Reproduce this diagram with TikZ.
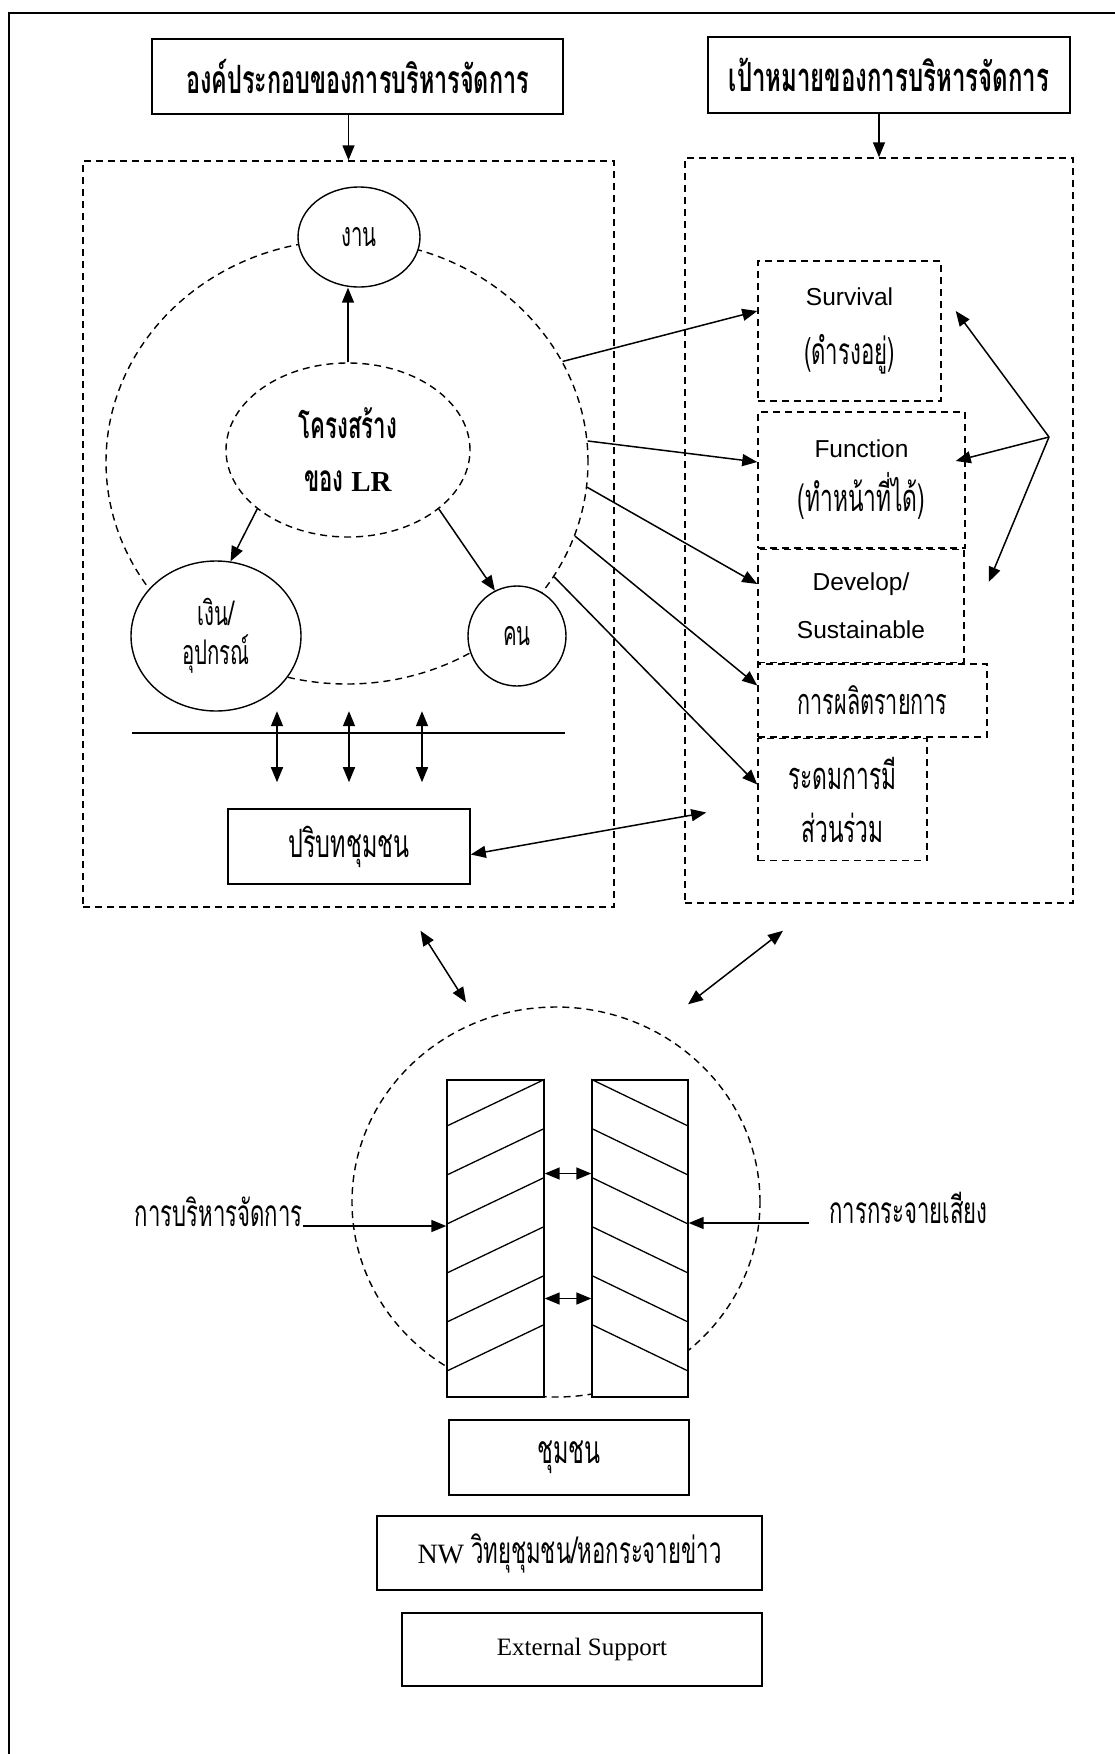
\documentclass[tikz,border=0pt]{standalone}
\usepackage{fontspec}
\setmainfont{Liberation Serif}
\newfontfamily\thaifont[Script=Thai,FakeStretch=0.6]{Loma}
\newfontfamily\latinsans{Liberation Sans}
\usetikzlibrary{shapes.geometric,arrows.meta,positioning,calc}

\begin{document}
\begin{tikzpicture}[
    x=1pt, y=-1pt,
    box/.style={rectangle, draw, line width=1.6pt, inner sep=0pt, align=center},
    dashbox/.style={rectangle, draw, line width=1.5pt, dash pattern=on 7pt off 5pt, inner sep=0pt, align=center},
    oval/.style={ellipse, draw, line width=1.4pt, fill=white, inner sep=0pt, align=center},
    dashoval/.style={ellipse, draw, line width=1.4pt, dash pattern=on 7pt off 5pt, inner sep=0pt, align=center},
    arrow/.style={-{Triangle[length=15pt,width=12pt]}, line width=1.5pt},
    twoway/.style={{Triangle[length=15pt,width=12pt]}-{Triangle[length=15pt,width=12pt]}, line width=1.5pt}
]
\useasboundingbox (0,0) rectangle (1115,1754);

% Frame
\draw[line width=1.5pt] (1115,13) -- (9,13) -- (9,1754);

% Headers
\node[box, line width=2pt, minimum width=411pt, minimum height=75pt, font=\thaifont\bfseries\fontsize{39}{44}\selectfont] (parts) at (357.5,76.5) {องค์ประกอบของการบริหารจัดการ};
\node[box, line width=2pt, minimum width=362pt, minimum height=76pt, font=\thaifont\bfseries\fontsize{40}{44}\selectfont] (goals) at (889,75) {เป้าหมายของการบริหารจัดการ};

% Dashed areas
\node[dashbox, minimum width=531pt, minimum height=746pt] (partsarea) at (348.5,534) {};
\node[dashbox, minimum width=388pt, minimum height=745pt] (goalsarea) at (879,530.5) {};

% Components of LR
\node[dashoval, minimum width=482pt, minimum height=444pt] (ring) at (347,462) {};
\node[dashoval, minimum width=244pt, minimum height=174pt, font=\thaifont\bfseries\fontsize{37}{53}\selectfont] (structure) at (348,450) {โครงสร้าง\\ของ {\rmfamily\fontsize{29}{53}\selectfont LR}};
\node[oval, minimum width=122pt, minimum height=100pt, font=\thaifont\fontsize{34}{39}\selectfont] (work) at (359,237) {งาน};
\node[oval, minimum width=170pt, minimum height=150pt, font=\thaifont\fontsize{34}{39}\selectfont] (money) at (216,636) {เงิน/\\อุปกรณ์};
\node[oval, minimum width=98pt, minimum height=100pt, font=\thaifont\fontsize{34}{39}\selectfont] (people) at (517,636) {คน};

\node[box, minimum width=242pt, minimum height=75pt, font=\thaifont\fontsize{39}{44}\selectfont] (context) at (349,846.5) {ปริบทชุมชน};

% Goals
\node[dashbox, minimum width=183pt, minimum height=140pt, font=\fontsize{24.5}{59}\selectfont] (survival) at (849.5,331) {{\latinsans Survival}\\{\thaifont\fontsize{37}{59}\selectfont (ดำรงอยู่)}};
\node[dashbox, minimum width=207pt, minimum height=136pt, font=\fontsize{24.5}{54}\selectfont] (function) at (861.5,480) {{\latinsans Function}\\{\thaifont\fontsize{38}{54}\selectfont (ทำหน้าที่ได้)}};
\node[dashbox, minimum width=206pt, minimum height=113pt, below=0pt of function.south west, anchor=north west, font=\latinsans\fontsize{24.5}{48}\selectfont] (develop) {Develop/\\Sustainable};
\node[dashbox, minimum width=229pt, minimum height=73pt, below=0pt of develop.south west, anchor=north west, font=\thaifont\fontsize{36}{40}\selectfont] (output) {การผลิตรายการ};
\node[dashbox, minimum width=169pt, minimum height=122pt, below=0pt of output.south west, anchor=north west, font=\thaifont\fontsize{38}{53}\selectfont] (mobilise) {ระดมการมี\\ส่วนร่วม};

% Community
\node[dashoval, minimum width=408pt, minimum height=390pt] (commring) at (556,1202) {};
\node[box, fill=white, line width=1.4pt, minimum width=97pt, minimum height=317pt] (mgmtbar) at (495.5,1238.5) {};
\node[box, fill=white, line width=1.4pt, minimum width=96pt, minimum height=317pt] (castbar) at (640,1238.5) {};
\foreach \k in {0,...,5} {
  \draw[line width=1.3pt] ($(mgmtbar.north west)+(0,47+49*\k)$) -- ($(mgmtbar.north east)+(0,49*\k)$);
  \draw[line width=1.3pt] ($(castbar.north west)+(0,49*\k)$) -- ($(castbar.north east)+(0,47+49*\k)$);
}
\node[anchor=base east, inner sep=0pt, font=\thaifont\fontsize{37}{40}\selectfont] (mgmtlabel) at (303,1226) {การบริหารจัดการ};
\node[anchor=base west, inner sep=0pt, font=\thaifont\fontsize{37}{40}\selectfont] (castlabel) at (829,1223) {การกระจายเสียง};

\node[box, minimum width=240pt, minimum height=75pt, font=\thaifont\fontsize{39}{44}\selectfont] (community) at (569,1457.5) {ชุมชน};
\node[box, minimum width=385pt, minimum height=74pt, font=\fontsize{28}{34}\selectfont] (network) at (569.5,1553) {NW {\thaifont\fontsize{37}{40}\selectfont วิทยุชุมชน/หอกระจายข่าว}};
\node[box, minimum width=360pt, minimum height=73pt, font=\fontsize{25}{30}\selectfont] (support) at (582,1649.5) {External Support};

% Arrows
\draw[arrow] (parts.south -| partsarea.north) -- (partsarea.north);
\draw[arrow] (goals.south -| goalsarea.north) -- (goalsarea.north);
\draw[arrow] (structure.north) -- (structure.north |- work.south);
\draw[arrow] (structure.213) -- (money.79);
\draw[arrow] (structure.327) -- (people.116);

\coordinate (divleft) at (132,733);
\coordinate (divright) at (565,733);
\draw[line width=1.6pt] (divleft) -- (divright);
\foreach \dx in {-72,0,73}
  \draw[twoway] ($(context.north)+(\dx,-97)$) -- ($(context.north)+(\dx,-26)$);
\draw[twoway] ($(context.east)+(0,8)$) -- ($(mobilise.west)+(-51,13)$);

\draw[arrow] (ring.25) -- ($(survival.west)+(0,-20)$);
\draw[arrow] (ring.5) -- ($(function.west)+(0,-18)$);
\draw[arrow] (ring.-6) -- ($(develop.west)+(0,-22)$);
\draw[arrow] (ring.-18) -- ($(output.west)+(0,-15)$);
\draw[arrow] (ring.-29) -- ($(mobilise.west)+(0,-15)$);

\coordinate (hub) at (1049,437);
\draw[arrow] (hub) -- ($(survival.east)+(14,-20)$);
\draw[arrow] (hub) -- ($(function.east)+(-10,-19)$);
\draw[arrow] (hub) -- ($(develop.east)+(24,-24)$);

\draw[twoway] ($(partsarea.south)+(72,23)$) -- ($(commring.north)+(-90,-4)$);
\draw[twoway] ($(goalsarea.south)+(-96,27)$) -- ($(commring.north)+(132,-2)$);
\draw[twoway] ($(mgmtbar.east)+(0,-65)$) -- ($(castbar.west)+(0,-65)$);
\draw[twoway] ($(mgmtbar.east)+(0,60)$) -- ($(castbar.west)+(0,60)$);
\draw[arrow] (mgmtlabel.base east) -- (mgmtlabel.base east -| mgmtbar.west);
\draw[arrow] ($(castlabel.base west)+(-20,0)$) -- (castbar.east |- castlabel.base west);

\end{tikzpicture}
\end{document}
